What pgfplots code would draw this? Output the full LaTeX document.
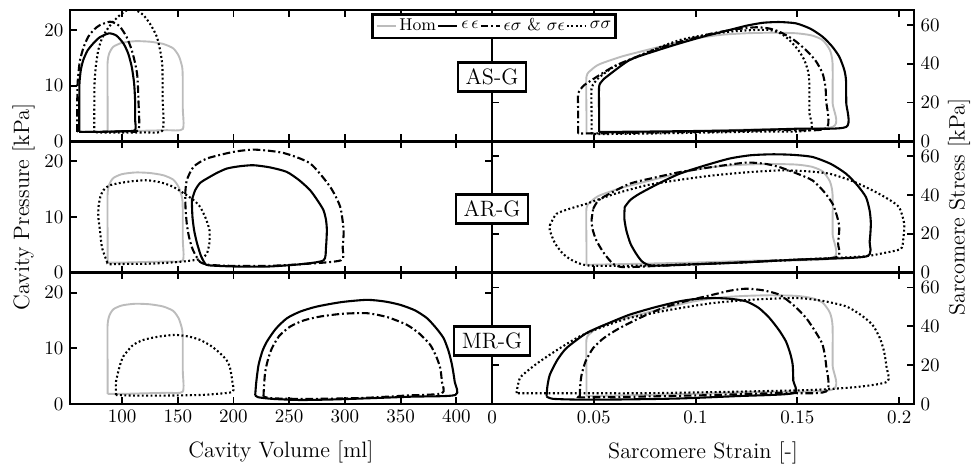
\documentclass[border=0pt]{standalone}
\usepackage{pgfplots}
\usepackage{pgfplotstable}
\pgfplotsset{compat=1.18}
\definecolor{homgray}{RGB}{188,188,188}
\newcommand{\lf}{\fontsize{9}{10.5}\selectfont}
\pgfplotstableread{
x y
87 1.8
87 8
87 14
88.5 15.8
92.2 17.0
100 17.7
112 18.0
125 17.9
137 17.5
146 16.7
151 15.3
154 13.3
154.5 11
154.5 6
154.5 2.2
140 2.0
120 1.9
100 1.8
87 1.8
}\HomL
\pgfplotstableread{
x y
0.0464 4.0
0.0464 15
0.0464 33.2
0.0490 37.0
0.0529 39.8
0.0640 43.8
0.0758 47.0
0.0880 50.2
0.1003 53.1
0.1125 54.9
0.1248 55.7
0.1370 56.0
0.1494 55.7
0.1570 54.6
0.1624 52.2
0.1660 47
0.1673 40.1
0.1673 20
0.1673 7.4
0.1300 6.2
0.1000 5.2
0.0700 4.5
0.0464 4.0
}\HomR
\pgfplotsset{
 panel/.style={scale only axis, width=222.1pt, height=69.1pt, anchor=north west,
   axis line style={line width=1.3pt}, major tick style={line width=1pt, black},
   major tick length=3.6pt, tick align=inside,
   tick label style={font=\fontsize{10}{12}\selectfont}},
 L/.style={xmin=53.3, xmax=432, ymin=0, ymax=23.6, xtick={100,150,...,400}, ytick={0,10,20}},
 R/.style={xmin=0, xmax=0.2073, ymin=0, ymax=67.7, xtick={0,0.05,0.1,0.15,0.2},
   ytick={0,20,40,60}, yticklabel pos=right, scaled x ticks=false},
 hom/.style={homgray, line width=1pt, mark=none, smooth, tension=0.4},
 ee/.style={black, line width=1.1pt, mark=none, smooth, tension=0.4},
 es/.style={black, line width=1.1pt, dash pattern=on 4pt off 1.5pt on 1pt off 1.5pt, mark=none, smooth, tension=0.4},
 ss/.style={black, line width=1.1pt, dash pattern=on 1pt off 1.3pt, mark=none, smooth, tension=0.4},
}
\begin{document}
\begin{tikzpicture}
\path[use as bounding box] (-36.84pt,5.26pt) rectangle (474.2pt,-239.5pt);
% ---------- Row 1 left
\begin{axis}[panel, L, at={(0pt,0pt)}, xticklabels={}]
\addplot[hom] table {\HomL};
\addplot[ee] coordinates {(61.6,1.7) (61.6,6) (61.8,10.4) (63,12.8) (65.2,14.6) (69,16.3) (74.2,17.6) (80,18.7) (88.3,19.4) (95,19.0) (101.2,17.6) (105.5,15.8) (108.7,13.4) (110.8,10.5) (111.7,7.4) (111.7,4) (111.7,2.0) (100,1.8) (80,1.7) (61.6,1.7)};
\addplot[es] coordinates {(59.8,1.7) (59.8,6) (60,10) (61,12.5) (62.3,14.6) (65.5,16.9) (69.7,18.8) (75,20.1) (80.2,20.9) (89.2,21.5) (94,21.2) (98.2,20.6) (104,18.8) (108.7,16.4) (112,13.8) (113.8,11.6) (114.7,7.4) (114.7,2.0) (100,1.8) (80,1.7) (59.8,1.7)};
\addplot[ss] coordinates {(75.1,1.6) (75.1,6) (75.3,10.4) (76.5,13.5) (78.7,16.4) (82,18.5) (86.3,20.0) (92,21.5) (98.2,22.7) (103,23.4) (107.2,23.8) (113,23.5) (119.1,22.7) (125.5,21) (131.2,18.8) (134.5,16) (136.2,13.4) (136.4,8) (136.4,2.0) (120,1.6) (100,1.55) (75.1,1.6)};
\end{axis}
% ---------- Row 1 right
\begin{axis}[panel, R, at={(222.1pt,0pt)}, xticklabels={},
  legend style={at={(axis description cs:0.005,1)}, anchor=north, yshift=-1.6pt,
    draw=black, line width=1.3pt, fill=white, inner sep=1.6pt,
    font=\lf, nodes={inner sep=0.7pt, font=\lf}},
  legend columns=-1,
  legend image code/.code={\draw[#1] (0pt,0pt) -- (10pt,0pt);},
  /tikz/every odd column/.append style={column sep=0.8pt}]
\addplot[hom] table {\HomR};
\addlegendentry{\lf Hom}
\addplot[ee] coordinates {(0.0526,4.8) (0.0526,15) (0.0526,28.1) (0.0540,31) (0.0562,33.2) (0.0676,41.9) (0.0800,46.5) (0.0922,50.5) (0.1045,54.2) (0.1167,57.4) (0.1250,59.6) (0.1330,61.1) (0.1410,61.5) (0.1494,60.8) (0.1565,58) (0.1624,53.9) (0.1670,49) (0.1706,43.6) (0.1730,37) (0.1739,31.5) (0.1740,20) (0.1740,7.4) (0.1500,6.5) (0.1248,5.7) (0.1000,5.3) (0.0750,5.0) (0.0526,4.8)};
\addlegendentry{\lf $\epsilon\,\epsilon$}
\addplot[es] coordinates {(0.0423,4.0) (0.0423,15) (0.0423,24.6) (0.0440,27.5) (0.0464,29.8) (0.0595,38.4) (0.0720,44) (0.0840,48.7) (0.0960,52.4) (0.1085,55.7) (0.1200,57.8) (0.1297,58.8) (0.1360,58.2) (0.1412,56.5) (0.1480,52.5) (0.1543,47.0) (0.1590,41.5) (0.1624,35.0) (0.1638,28) (0.1641,21.2) (0.1641,6.6) (0.1400,5.8) (0.1100,5.0) (0.0800,4.5) (0.0600,4.2) (0.0423,4.0)};
\addlegendentry{\lf $\epsilon\sigma$ \& $\sigma\epsilon$}
\addplot[ss] coordinates {(0.0489,3.7) (0.0489,15) (0.0489,27.2) (0.0505,30.5) (0.0529,33.2) (0.0600,38.5) (0.0676,41.9) (0.0800,47.5) (0.0922,52.2) (0.1045,54.8) (0.1167,56.5) (0.1270,57.3) (0.1363,57.4) (0.1420,55.5) (0.1461,52.2) (0.1505,47) (0.1534,41.9) (0.1553,36) (0.1559,29.8) (0.1559,15) (0.1559,5.7) (0.1300,5.0) (0.1000,4.4) (0.0700,3.9) (0.0489,3.7)};
\addlegendentry{\lf $\sigma\sigma$}
\end{axis}
% ---------- Row 2 left
\begin{axis}[panel, L, at={(0pt,-69.1pt)}, xticklabels={}]
\addplot[hom] table {\HomL};
\addplot[ee] coordinates {(162.6,13.0) (165.6,14.8) (170,16.1) (176.1,16.9) (185,17.9) (194,18.7) (205,19.1) (217.9,19.3) (233,18.9) (247.8,18.1) (259,16.6) (268.8,14.8) (276,12.8) (280.8,11.2) (283,9.5) (283.8,7.6) (283,4.5) (280.8,2.2) (260,1.5) (230,1.08) (200,1.1) (178,1.3) (174.6,1.6) (172,2.5) (170.1,3.4) (167,5.5) (164.7,7.6) (163.2,10) (162.6,13.0)};
\addplot[es] coordinates {(156.7,14.2) (158.1,16.6) (164.1,19.0) (176.1,20.5) (200,21.7) (219.4,22.1) (244.9,21.5) (268.9,19.6) (286.8,15.4) (295.8,11.8) (298.8,7.6) (298,4.5) (296.4,2.2) (260,1.5) (230,1.2) (200,1.2) (178,1.4) (170.1,1.9) (165,3.5) (162.6,4.6) (160,6.5) (158.1,8.8) (157,11.5) (156.7,14.2)};
\addplot[ss] coordinates {(86.8,1.8) (82,4.5) (80.2,7.6) (78.7,10) (78.9,11.8) (80.5,13.6) (83.2,14.8) (88,15.6) (95.2,16.0) (108,16.4) (122.2,16.6) (135,16.2) (146.1,15.4) (158.1,13.9) (165,12.9) (170.1,11.8) (175,9.8) (178.5,7.6) (178.3,5.2) (176.1,3.4) (172,2.6) (167.1,2.3) (150,1.9) (124.6,1.6) (100,1.55) (87.9,1.5) (86.8,1.8)};
\end{axis}
% ---------- Row 2 right
\begin{axis}[panel, R, at={(222.1pt,-69.1pt)}, xticklabels={}]
\addplot[hom] table {\HomR};
\addplot[ee] coordinates {(0.0652,33.8) (0.0680,37.5) (0.0725,40.7) (0.0820,46) (0.0922,51.0) (0.1045,55.2) (0.1167,58.8) (0.1270,60.5) (0.1379,61.0) (0.1480,60.7) (0.1575,59.6) (0.1665,56) (0.1739,51.0) (0.1795,45) (0.1837,38.9) (0.1855,32) (0.1861,25.2) (0.1855,16) (0.1837,8.3) (0.1500,6.7) (0.1248,5.3) (0.1000,4.3) (0.0791,3.6) (0.0740,5.5) (0.0709,9.6) (0.0680,15) (0.0660,21.7) (0.0650,28) (0.0652,33.8)};
\addplot[es] coordinates {(0.0497,32.9) (0.0515,36.2) (0.0546,38.9) (0.0676,45.8) (0.0800,49) (0.0922,51.8) (0.1085,54.5) (0.1248,56.7) (0.1340,56.1) (0.1412,54.4) (0.1500,51) (0.1575,47.5) (0.1630,41.8) (0.1673,35.5) (0.1695,29) (0.1706,23.4) (0.1700,15) (0.1690,7.9) (0.1400,6.2) (0.1100,4.7) (0.0800,3.4) (0.0644,2.8) (0.0595,4.5) (0.0550,10) (0.0513,16.5) (0.0495,22) (0.0489,26.9) (0.0497,32.9)};
\addplot[ss] coordinates {(0.0284,24.3) (0.0317,30.3) (0.0390,33.2) (0.0464,35.5) (0.0600,40.5) (0.0758,45.0) (0.0920,47.8) (0.1085,50.1) (0.1250,51.7) (0.1412,52.7) (0.1540,52.3) (0.1657,51.0) (0.1770,47.2) (0.1869,42.4) (0.1945,38) (0.2000,33.7) (0.2025,25.2) (0.2020,17) (0.2008,12.2) (0.1920,10) (0.1820,8.3) (0.1500,6.7) (0.1248,5.3) (0.1000,4.4) (0.0758,3.6) (0.0480,3.6) (0.0400,6) (0.0350,9.6) (0.0310,15) (0.0284,21.7) (0.0284,24.3)};
\end{axis}
% ---------- Row 3 left
\begin{axis}[panel, L, at={(0pt,-138.2pt)}]
\addplot[hom] table {\HomL};
\addplot[ee] coordinates {(219.5,1.6) (220.5,4) (222.5,7.0) (226,9.5) (230,11.2) (238,13.5) (248,15.4) (260,16.6) (274.9,17.5) (297,18.3) (319.8,18.7) (336,18.4) (349.7,17.8) (363,16.8) (373.7,15.4) (382,13.6) (388.6,11.8) (393,9.5) (396.1,7.0) (398.5,4) (399.1,1.6) (360,1.3) (319.8,1.0) (290,0.8) (259.9,0.7) (235,0.9) (222,1.2) (219.5,1.6)};
\addplot[es] coordinates {(226.9,1.3) (227.5,3.5) (228.5,5.8) (231,8) (234.5,10.0) (241,12.2) (250.9,13.9) (263,15) (277.8,15.7) (298,16.2) (319.8,16.3) (338,15.6) (355.7,14.2) (367,12.6) (376.6,10.6) (382,8.5) (385.6,6.4) (387,4) (387.1,1.9) (355,1.5) (319.8,1.1) (290,0.95) (260,0.9) (235,1.0) (226.9,1.3)};
\addplot[ss] coordinates {(94.6,1.6) (94.6,4.0) (98.2,7.0) (101,8.5) (104.5,9.4) (110,10.6) (119.1,11.5) (133,12.1) (147.6,12.4) (160,12.1) (170.1,11.5) (180,10.4) (188,9.1) (194,7.8) (197,6.4) (199,4.0) (199.4,2.2) (185,1.8) (170.1,1.6) (140,1.5) (110,1.5) (94.6,1.6)};
\end{axis}
% ---------- Row 3 right
\begin{axis}[panel, R, at={(222.1pt,-138.2pt)}, xticklabels={0,0.05,0.1,0.15,0.2}]
\addplot[hom] table {\HomR};
\addplot[ee] coordinates {(0.0268,3.8) (0.0272,9) (0.0284,15.0) (0.0320,22.5) (0.0366,28.8) (0.0464,36.5) (0.0570,41.5) (0.0676,46.0) (0.0800,49.8) (0.0922,52.9) (0.1000,54.1) (0.1085,54.6) (0.1170,54.2) (0.1248,52.9) (0.1310,49.5) (0.1363,44.3) (0.1410,38) (0.1444,32.2) (0.1465,26) (0.1477,20.2) (0.1480,12) (0.1480,5.5) (0.1200,4.0) (0.0922,2.8) (0.0650,2.3) (0.0431,2.2) (0.0300,2.6) (0.0268,3.8)};
\addplot[es] coordinates {(0.0431,3.8) (0.0433,9) (0.0440,15.0) (0.0460,22) (0.0497,28.8) (0.0550,34) (0.0627,39.1) (0.0730,44.5) (0.0840,49.5) (0.0960,53.2) (0.1085,56.3) (0.1170,58.4) (0.1248,59.4) (0.1330,58.6) (0.1412,56.3) (0.1480,51) (0.1543,44.3) (0.1590,37) (0.1624,30.5) (0.1641,20.2) (0.1641,6.4) (0.1400,5.6) (0.1100,4.6) (0.0800,3.9) (0.0600,3.5) (0.0431,3.4) (0.0431,3.8)};
\addplot[ss] coordinates {(0.0121,5.5) (0.0121,6.4) (0.0137,13.3) (0.0180,17.5) (0.0235,21.9) (0.0330,28.5) (0.0431,34.8) (0.0550,40) (0.0676,44.3) (0.0880,48.6) (0.1085,52.0) (0.1290,53.8) (0.1494,54.6) (0.1620,53.2) (0.1739,50.3) (0.1810,46) (0.1869,40.8) (0.1905,34) (0.1926,27.0) (0.1938,19) (0.1943,11.5) (0.1800,8.8) (0.1575,7.2) (0.1200,6.3) (0.0758,5.5) (0.0400,5.5) (0.0121,5.5)};
\end{axis}
% ---------- labels
\begin{scope}[every node/.style={font=\fontsize{11.7}{14}\selectfont}]
\node[rotate=90] at (-24.5pt,-103.7pt) {Cavity Pressure [kPa]};
\node[rotate=90] at (467.9pt,-103.7pt) {Sarcomere Stress [kPa]};
\node at (111.05pt,-232.6pt) {Cavity Volume [ml]};
\node at (333.2pt,-232.9pt) {Sarcomere Strain [-]};
\node[draw, line width=1.3pt, fill=white, inner xsep=4pt, minimum height=15.3pt] at (222.1pt,-35.3pt) {AS-G};
\node[draw, line width=1.3pt, fill=white, inner xsep=4pt, minimum height=15.3pt] at (222.1pt,-104.7pt) {AR-G};
\node[draw, line width=1.3pt, fill=white, inner xsep=4pt, minimum height=15.3pt] at (222.1pt,-174.2pt) {MR-G};
\end{scope}
\end{tikzpicture}
\end{document}
